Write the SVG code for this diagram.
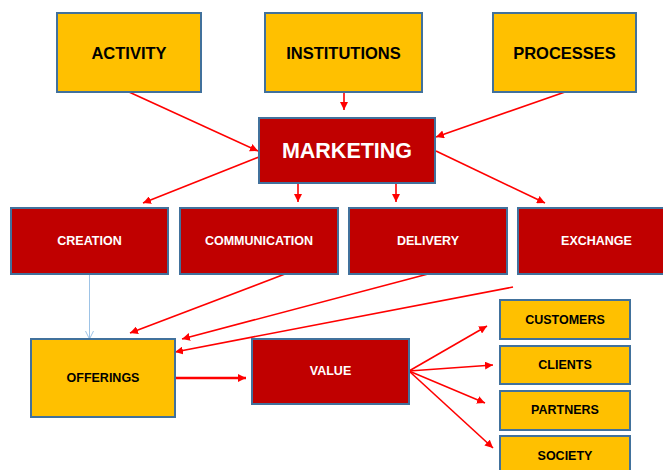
<svg xmlns="http://www.w3.org/2000/svg" width="663" height="470" viewBox="0 0 663 470">
<defs>
<style>
.y{fill:#FFC000;stroke:#41719C;stroke-width:2}
.r{fill:#C00000;stroke:#41719C;stroke-width:2}
.t{font-family:"Liberation Sans",Arial,sans-serif;font-weight:bold;text-anchor:middle;dominant-baseline:central}
.tb{fill:#000}
.tw{fill:#fff}
.c{stroke:#FF0000;stroke-width:1.6;fill:none;marker-end:url(#ah)}
.cb{stroke:#9DC3E6;stroke-width:1;fill:none;marker-end:url(#ob)}
</style>
<marker id="ah" markerUnits="userSpaceOnUse" markerWidth="10" markerHeight="8" refX="8" refY="4" orient="auto">
<path d="M0,0 L8,4 L0,8 Z" fill="#FF0000"/>
</marker>
<marker id="ob" markerUnits="userSpaceOnUse" markerWidth="10" markerHeight="10" refX="8" refY="4" orient="auto">
<path d="M0,0 L8,4 L0,8" fill="none" stroke="#9DC3E6" stroke-width="1"/>
</marker>
</defs>
<rect width="663" height="470" fill="#fff"/>
<g id="connectors">
<line class="c" x1="129" y1="92" x2="258" y2="151"/>
<line class="c" x1="344" y1="92" x2="344" y2="110"/>
<line class="c" x1="565" y1="92" x2="436" y2="137"/>
<line class="c" x1="259" y1="157" x2="143" y2="203"/>
<line class="c" x1="298" y1="183" x2="298" y2="202"/>
<line class="c" x1="396" y1="183" x2="396" y2="202"/>
<line class="c" x1="436" y1="151" x2="545" y2="203"/>
<line class="cb" x1="89.5" y1="274" x2="89.5" y2="339"/>
<line class="c" x1="285" y1="274" x2="130" y2="333"/>
<line class="c" x1="428" y1="274" x2="182" y2="339"/>
<line class="c" x1="513" y1="287" x2="175" y2="352"/>
<line class="c" x1="175" y1="378" x2="246" y2="378" style="stroke-width:2.6"/>
<line class="c" x1="409" y1="371" x2="487" y2="326"/>
<line class="c" x1="409" y1="371" x2="493" y2="365"/>
<line class="c" x1="409" y1="371" x2="485" y2="403"/>
<line class="c" x1="409" y1="371" x2="493" y2="448"/>
</g>
<g id="activity"><rect class="y" x="57" y="13" width="144" height="79"/><text class="t tb" x="129" y="53" font-size="16.5">ACTIVITY</text></g>
<g id="institutions"><rect class="y" x="265" y="13" width="157" height="79"/><text class="t tb" x="343.5" y="53" font-size="16.5">INSTITUTIONS</text></g>
<g id="processes"><rect class="y" x="493" y="13" width="143" height="79"/><text class="t tb" x="564.5" y="53" font-size="16.5">PROCESSES</text></g>
<g id="marketing"><rect class="r" x="259" y="118" width="176" height="65"/><text class="t tw" x="347" y="151" font-size="21.5">MARKETING</text></g>
<g id="creation"><rect class="r" x="11" y="208" width="157" height="66"/><text class="t tw" x="89.5" y="241" font-size="12.5">CREATION</text></g>
<g id="communication"><rect class="r" x="180" y="208" width="158" height="66"/><text class="t tw" x="259" y="241" font-size="12.5">COMMUNICATION</text></g>
<g id="delivery"><rect class="r" x="349" y="208" width="158" height="66"/><text class="t tw" x="428" y="241" font-size="12.5">DELIVERY</text></g>
<g id="exchange"><rect class="r" x="518" y="208" width="157" height="66"/><text class="t tw" x="596.5" y="241" font-size="12.5">EXCHANGE</text></g>
<g id="offerings"><rect class="y" x="31" y="339" width="144" height="78"/><text class="t tb" x="103" y="378" font-size="12.5">OFFERINGS</text></g>
<g id="value"><rect class="r" x="252" y="339" width="157" height="65"/><text class="t tw" x="330.5" y="371" font-size="12.5">VALUE</text></g>
<g id="customers"><rect class="y" x="500" y="300" width="130" height="39"/><text class="t tb" x="565" y="320" font-size="12.5">CUSTOMERS</text></g>
<g id="clients"><rect class="y" x="500" y="346" width="130" height="38"/><text class="t tb" x="565" y="365" font-size="12.5">CLIENTS</text></g>
<g id="partners"><rect class="y" x="500" y="391" width="130" height="39"/><text class="t tb" x="565" y="410" font-size="12.5">PARTNERS</text></g>
<g id="society"><rect class="y" x="500" y="436" width="130" height="39"/><text class="t tb" x="565" y="455.5" font-size="12.5">SOCIETY</text></g>
</svg>
